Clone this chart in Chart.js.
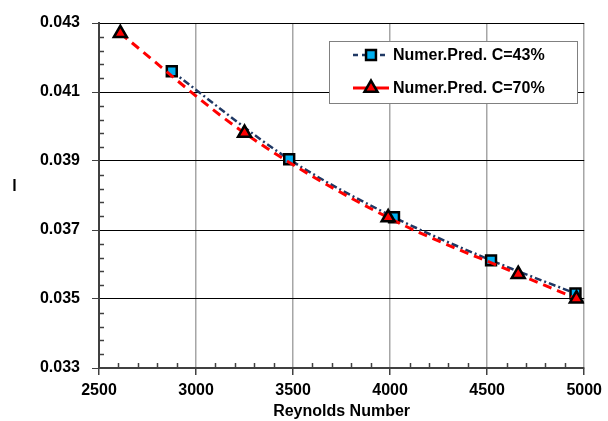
<!DOCTYPE html>
<html>
<head>
<meta charset="utf-8">
<script src="https://cdn.jsdelivr.net/npm/chart.js@4/dist/chart.umd.min.js"></script>
<style>
    html, body { margin: 0; padding: 0; background: #fff; }
    #wrap { width: 608px; height: 421px; position: relative; }
</style>
</head>
<body>
<div id="wrap"><canvas id="frictionChart" width="608" height="421"></canvas></div>
<script>
    // values
    const reC43 = [2875, 3480, 4020, 4520, 4955];
    const fC43 = [0.0416, 0.03905, 0.03737, 0.03612, 0.03516];
    const reC70 = [2610, 3250, 3990, 4660, 4960];
    const fC70 = [0.0427, 0.03981, 0.03736, 0.03572, 0.03501];
    const seriesLabels = ['Numer.Pred. C=43%', 'Numer.Pred. C=70%'];
    const xTitle = 'Reynolds Number';
    const yTitle = 'l';

    const FONT = "'Liberation Sans', Arial, sans-serif";
    const navy = '#203864';
    const red = '#ff0000';

    function toPoints(xs, ys) {
        return xs.map((x, i) => ({ x: x, y: ys[i] }));
    }

    // minor tick marks, y title and boxed legend, drawn through the chart scales
    const extrasPlugin = {
        id: 'extras',
        beforeDatasetsDraw(chart) {
            const ctx = chart.ctx;
            const xs = chart.scales.x, ys = chart.scales.y;
            const area = chart.chartArea;
            ctx.save();
            ctx.strokeStyle = '#404040';
            ctx.lineWidth = 1.5;
            for (let v = xs.min + 100; v < xs.max; v += 100) {
                if (Math.round(v) % 500 === 0) continue;
                const px = Math.round(xs.getPixelForValue(v)) + 0.5;
                ctx.beginPath(); ctx.moveTo(px, area.bottom); ctx.lineTo(px, area.bottom - 5); ctx.stroke();
            }
            for (let i = 1; i < 25; i++) {
                if (i % 5 === 0) continue;
                const py = Math.round(ys.getPixelForValue(ys.min + i * 0.0004)) + 0.5;
                ctx.beginPath(); ctx.moveTo(area.left, py); ctx.lineTo(area.left + 5, py); ctx.stroke();
            }
            ctx.restore();
        },
        afterDraw(chart) {
            const ctx = chart.ctx;
            ctx.save();
            ctx.font = 'bold 16px ' + FONT;
            ctx.fillStyle = '#000';
            ctx.textAlign = 'center';
            ctx.textBaseline = 'middle';
            ctx.fillText(yTitle, 14.5, 187);

            const bx = 329, by = 41, bw = 248, bh = 62;
            ctx.fillStyle = '#fff';
            ctx.fillRect(bx, by, bw, bh);
            ctx.strokeStyle = '#808080';
            ctx.lineWidth = 1;
            ctx.strokeRect(bx + 0.5, by + 0.5, bw, bh);

            const rows = [55, 88];
            chart.data.datasets.forEach((ds, i) => {
                const y = rows[i];
                ctx.strokeStyle = ds.borderColor;
                ctx.lineWidth = ds.borderWidth;
                ctx.setLineDash(i === 0 ? [5, 4] : []);
                ctx.beginPath(); ctx.moveTo(353, y); ctx.lineTo(389, y); ctx.stroke();
                ctx.setLineDash([]);
                ctx.fillStyle = ds.pointBackgroundColor;
                ctx.strokeStyle = ds.pointBorderColor;
                ctx.lineWidth = ds.pointBorderWidth;
                Chart.helpers.drawPoint(ctx, {
                    pointStyle: ds.pointStyle, radius: ds.pointRadius, borderWidth: ds.pointBorderWidth
                }, 371, y);
                ctx.fillStyle = '#000';
                ctx.textAlign = 'left';
                ctx.fillText(ds.label, 393, y + 1);
            });
            ctx.restore();
        }
    };

    const ctx = document.getElementById('frictionChart').getContext('2d');
    const frictionChart = new Chart(ctx, {
        type: 'scatter',
        data: {
            datasets: [
                {
                    label: seriesLabels[0], data: toPoints(reC43, fC43), showLine: true,
                    borderColor: navy, borderWidth: 2.5, borderDash: [7, 3, 2, 3], cubicInterpolationMode: 'monotone',
                    pointStyle: 'rect', pointRadius: 7, pointHoverRadius: 7,
                    pointBackgroundColor: '#00b0f0', pointBorderColor: '#000', pointBorderWidth: 2.5, order: 2
                },
                {
                    label: seriesLabels[1], data: toPoints(reC70, fC70), showLine: true,
                    borderColor: red, borderWidth: 3, borderDash: [9, 6], cubicInterpolationMode: 'monotone',
                    pointStyle: 'triangle', pointRadius: 7.5, pointHoverRadius: 7.5,
                    pointBackgroundColor: '#ff0000', pointBorderColor: '#000', pointBorderWidth: 2.5, order: 1
                }
            ]
        },
        options: {
            responsive: false,
            animation: false,
            devicePixelRatio: 1,
            layout: { padding: { top: 23, right: 20, left: 0, bottom: 0 } },
            plugins: { legend: { display: false }, tooltip: { enabled: false } },
            scales: {
                x: {
                    type: 'linear', min: 2500, max: 5000,
                    afterFit: s => { s.height = 53; },
                    ticks: { stepSize: 500, color: '#000', padding: 6, callback: v => String(v), font: { family: FONT, size: 16, weight: 'bold' } },
                    grid: { color: '#a6a6a6', lineWidth: 1.5, tickColor: '#404040', tickLength: 7 },
                    border: { color: '#404040', width: 2 },
                    title: { display: true, text: xTitle, color: '#000', padding: { top: 0, bottom: 0 }, font: { family: FONT, size: 16, weight: 'bold' } }
                },
                y: {
                    type: 'linear', min: 0.033, max: 0.043,
                    afterFit: s => { s.width = 99; },
                    ticks: { stepSize: 0.002, color: '#000', padding: 12, callback: v => v.toFixed(3), font: { family: FONT, size: 16, weight: 'bold' } },
                    grid: { color: '#000', lineWidth: 1, tickColor: '#404040', tickLength: 7 },
                    border: { color: '#404040', width: 2 }
                }
            }
        },
        plugins: [extrasPlugin]
    });
</script>
</body>
</html>
